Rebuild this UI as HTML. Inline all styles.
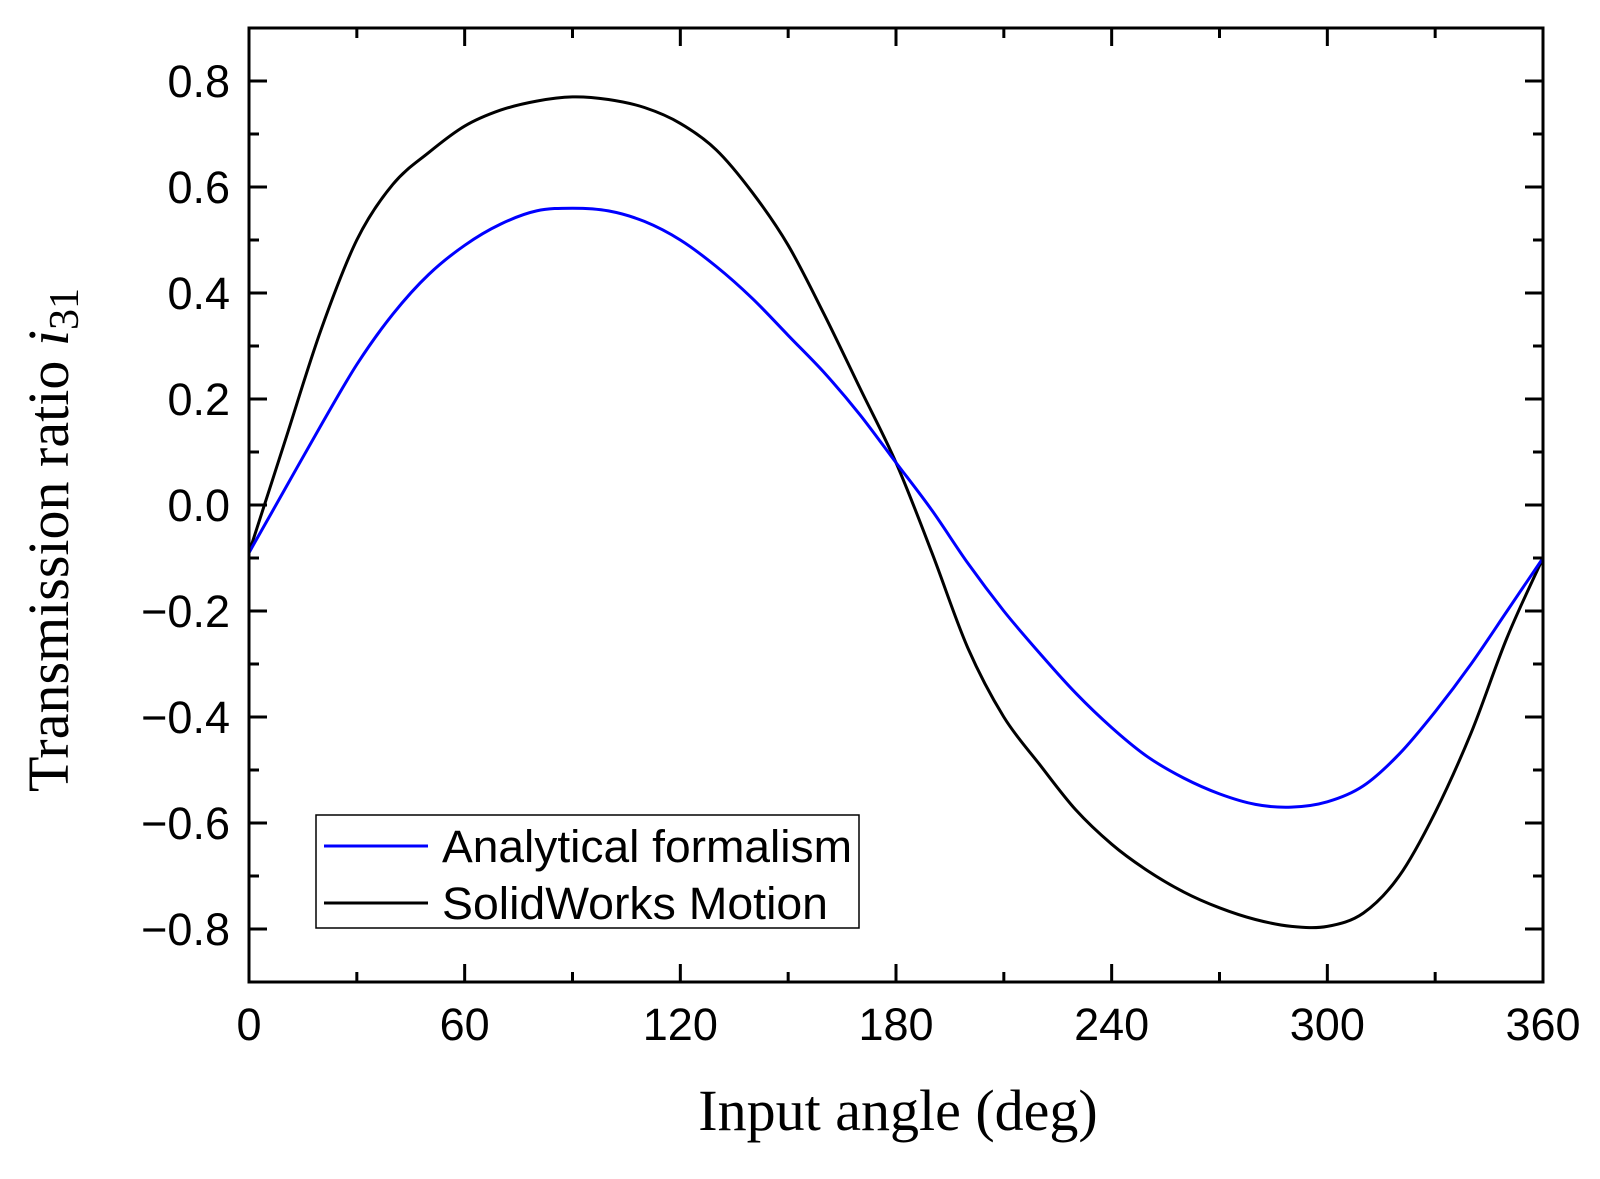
<!DOCTYPE html>
<html><head><meta charset="utf-8"><style>
html,body{margin:0;padding:0;background:#fff;}
svg{display:block;}
.tk{font-family:"Liberation Sans",Arial,sans-serif;font-size:45px;fill:#000;}
.ti{font-family:"Liberation Serif","Times New Roman",serif;font-size:58px;fill:#000;}
</style></head><body>
<svg id="chart" width="1600" height="1179" xmlns="http://www.w3.org/2000/svg">
<g id="series"></g>
<rect x="249" y="28" width="1294" height="954" fill="none" stroke="#000" stroke-width="3"/>
<g id="ticks"></g>
<text class="ti" x="898" y="1130" text-anchor="middle">Input angle (deg)</text>
<text class="ti" transform="translate(68,540) rotate(-90)" text-anchor="middle">Transmission ratio <tspan font-style="italic">i</tspan><tspan font-size="42" dy="10">31</tspan></text>
<g>
<rect x="316" y="815" width="543" height="113" fill="#fff" stroke="#000" stroke-width="1.5"/>
<line x1="324" y1="846" x2="428" y2="846" stroke="#0000ff" stroke-width="3"/>
<text class="tk" x="442" y="862" font-size="46" textLength="410" lengthAdjust="spacingAndGlyphs">Analytical formalism</text>
<line x1="324" y1="903" x2="428" y2="903" stroke="#000" stroke-width="3"/>
<text class="tk" x="442" y="919" font-size="46" textLength="386" lengthAdjust="spacingAndGlyphs">SolidWorks Motion</text>
</g>
</svg>
<script>
const angles=[0,10,20,30,40,50,60,70,80,90,100,110,120,130,140,150,160,170,180,190,200,210,220,230,240,250,260,270,280,290,300,310,320,330,340,350,360];
const analytical=[-0.09,0.03,0.15,0.265,0.36,0.435,0.49,0.53,0.555,0.56,0.555,0.535,0.50,0.45,0.39,0.32,0.25,0.17,0.08,-0.01,-0.11,-0.20,-0.28,-0.355,-0.42,-0.475,-0.515,-0.545,-0.565,-0.57,-0.56,-0.53,-0.47,-0.39,-0.30,-0.20,-0.10];
const solidworks=[-0.09,0.12,0.33,0.50,0.605,0.665,0.715,0.745,0.762,0.77,0.765,0.75,0.72,0.67,0.59,0.49,0.36,0.22,0.08,-0.09,-0.27,-0.40,-0.49,-0.575,-0.64,-0.69,-0.73,-0.76,-0.782,-0.795,-0.795,-0.77,-0.70,-0.58,-0.43,-0.25,-0.10];
const xTicks=[0,60,120,180,240,300,360];
const xTickLabels=["0","60","120","180","240","300","360"];
const yTicks=[-0.8,-0.6,-0.4,-0.2,0,0.2,0.4,0.6,0.8];
const yTickLabels=["\u22120.8","\u22120.6","\u22120.4","\u22120.2","0.0","0.2","0.4","0.6","0.8"];
const X0=249,X1=1543,Y0=982,Y1=28;
function sx(v){return X0+(v-0)/(360-0)*(X1-X0);}
function sy(v){return Y0-(v+0.9)/1.8*(Y0-Y1);}
const NS="http://www.w3.org/2000/svg";
const tg=document.getElementById('ticks');
function ln(x1,y1,x2,y2,name){const l=document.createElementNS(NS,'line');l.setAttribute('x1',x1);l.setAttribute('y1',y1);l.setAttribute('x2',x2);l.setAttribute('y2',y2);l.setAttribute('stroke','#000');l.setAttribute('stroke-width','3');


tg.appendChild(l);}
function tx(x,y,s,anchor,name){const t=document.createElementNS(NS,'text');t.setAttribute('x',x);t.setAttribute('y',y);t.setAttribute('class','tk');t.setAttribute('text-anchor',anchor);t.textContent=s;


tg.appendChild(t);}
xTicks.forEach((v,i)=>{const x=sx(v);ln(x,Y0,x,Y0-18,'x-tick');ln(x,Y1,x,Y1+18,'x-tick-top');tx(x,1040,xTickLabels[i],'middle','x-tick-label');
if(i<xTicks.length-1){const m=sx(v+30);ln(m,Y0,m,Y0-10,'x-minor-tick');ln(m,Y1,m,Y1+10,'x-minor-tick-top');}});
yTicks.forEach((v,i)=>{const y=sy(v);ln(X0,y,X0+18,y,'y-tick');ln(X1,y,X1-18,y,'y-tick-right');tx(230,y+16,yTickLabels[i],'end','y-tick-label');});
for(let k=-9;k<=9;k+=2){const y=sy(k/10);ln(X0,y,X0+10,y,'y-minor-tick');ln(X1,y,X1-10,y,'y-minor-tick-right');}
const sg=document.getElementById('series');
function path(vals,color,name){const p=document.createElementNS(NS,'path');
const pts=vals.map((v,i)=>[sx(angles[i]),sy(v)]);
let d='M'+pts[0][0].toFixed(1)+','+pts[0][1].toFixed(1);
for(let i=0;i<pts.length-1;i++){const p0=pts[Math.max(0,i-1)],p1=pts[i],p2=pts[i+1],p3=pts[Math.min(pts.length-1,i+2)];
const c1=[p1[0]+(p2[0]-p0[0])/6,p1[1]+(p2[1]-p0[1])/6],c2=[p2[0]-(p3[0]-p1[0])/6,p2[1]-(p3[1]-p1[1])/6];
d+='C'+c1[0].toFixed(1)+','+c1[1].toFixed(1)+' '+c2[0].toFixed(1)+','+c2[1].toFixed(1)+' '+p2[0].toFixed(1)+','+p2[1].toFixed(1);}
p.setAttribute('d',d);p.setAttribute('fill','none');p.setAttribute('stroke',color);p.setAttribute('stroke-width','3');p.setAttribute('stroke-linejoin','round');


sg.appendChild(p);}
path(solidworks,'#000','solidworks-line');
path(analytical,'#0000ff','analytical-line');
</script>
</body></html>
